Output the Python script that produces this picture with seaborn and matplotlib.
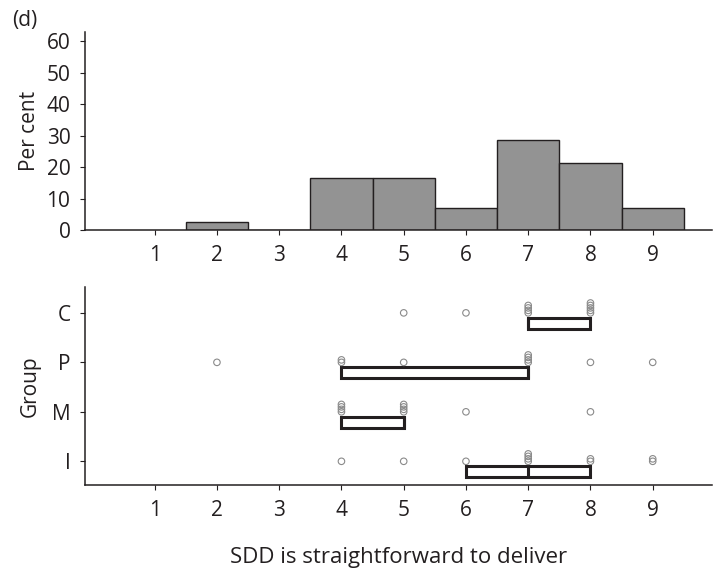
import numpy as np
import pandas as pd
import seaborn as sns
import matplotlib.pyplot as plt

# scores per group (stacked circles = repeats)
groups = ["I", "M", "P", "C"]
scores_I = [4, 5, 6, 7, 7, 7, 7, 8, 8, 9, 9]
scores_M = [4, 4, 4, 4, 5, 5, 5, 5, 6, 8]
scores_P = [2, 4, 4, 5, 7, 7, 7, 7, 8, 9]
scores_C = [5, 6, 7, 7, 7, 7, 8, 8, 8, 8, 8]
ticks = [1, 2, 3, 4, 5, 6, 7, 8, 9]

rows = []
for g, vals in zip(groups, [scores_I, scores_M, scores_P, scores_C]):
    for v in vals:
        rows.append((g, v))
df = pd.DataFrame(rows, columns=["group", "score"])
df["gpos"] = df["group"].map({g: i + 1 for i, g in enumerate(groups)})
df["stack"] = df.groupby(["group", "score"]).cumcount()

sns.set_style("ticks")
plt.rcParams["font.family"] = ["Open Sans", "DejaVu Sans"]
ink = "#231f20"
plt.rcParams.update({"axes.edgecolor": ink, "xtick.color": ink, "ytick.color": ink,
                     "text.color": ink, "axes.labelcolor": ink, "axes.linewidth": 1.1})
fs = 15

fig = plt.figure(figsize=(7.14, 5.72), dpi=100)
ax1 = fig.add_axes([0.119, 0.598, 0.878, 0.346])
ax2 = fig.add_axes([0.119, 0.152, 0.878, 0.346])

# top: percentage histogram
sns.histplot(data=df, x="score", discrete=True, stat="percent", ax=ax1,
             color="#939393", edgecolor=ink, linewidth=1.0, alpha=1)
ax1.set_xlim(-0.12, 9.95)
ax1.set_ylim(0, 63)
ax1.set_yticks([0, 10, 20, 30, 40, 50, 60])
ax1.set_xticks(ticks)
ax1.set_xlabel("")
ax1.set_ylabel("Per cent", fontsize=fs, labelpad=5)
ax1.tick_params(labelsize=fs, length=3.5, pad=7)
sns.despine(ax=ax1)

# bottom: dot strips with quartile boxes
ax2.scatter(df["score"], df["gpos"] + df["stack"] * 0.05, s=22,
            facecolors="none", edgecolors="#8a8a8a", linewidths=0.8, zorder=3)
for i, g in enumerate(groups):
    vals = df.loc[df["group"] == g, "score"].to_numpy()
    q1, med, q3 = np.percentile(vals, [25, 50, 75], method="inverted_cdf")
    y = i + 1
    ax2.barh(y - 0.21, q3 - q1, left=q1, height=0.22, color="white",
             edgecolor=ink, linewidth=2.2, zorder=2)
    ax2.vlines(med, y - 0.32, y - 0.10, color=ink, linewidth=2.2, zorder=2)

ax2.set_xlim(-0.12, 9.95)
ax2.set_ylim(0.52, 4.52)
ax2.set_xticks(ticks)
ax2.set_yticks([1, 2, 3, 4])
ax2.set_yticklabels(groups)
ax2.set_ylabel("Group", fontsize=fs, labelpad=8)
ax2.set_xlabel("SDD is straightforward to deliver", fontsize=16, labelpad=19)
ax2.tick_params(labelsize=fs, length=3.5, pad=7)
sns.despine(ax=ax2)

fig.text(0.017, 0.955, "(d)", fontsize=fs)
fig.savefig("out.png", dpi=100)
